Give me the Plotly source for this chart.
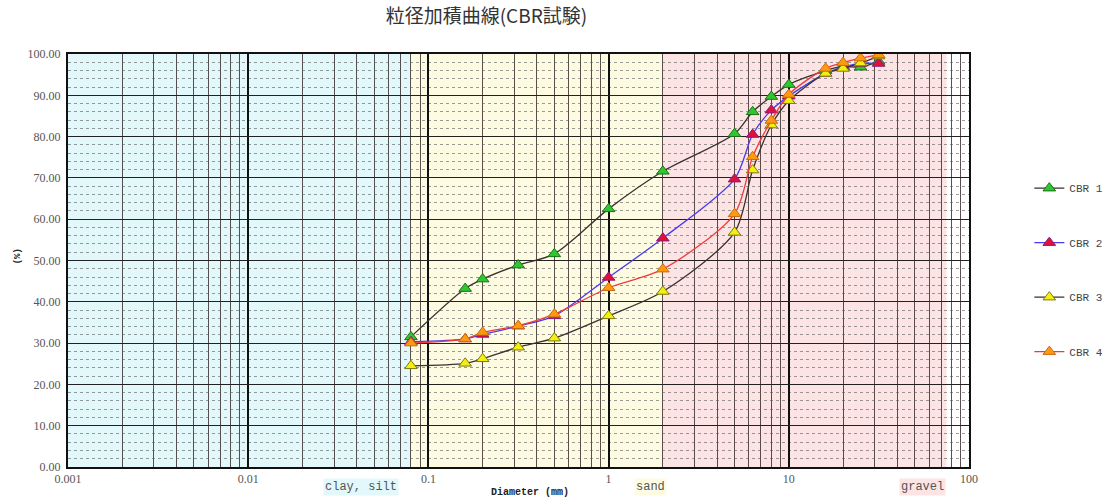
import math
import plotly.graph_objects as go

# Sieve sizes (mm) and percent passing for each CBR sample
diameter = [0.08, 0.16, 0.2, 0.315, 0.5, 1, 2, 5, 6.3, 8, 10, 16, 20, 25, 31.5]
cbr1 = [31.5, 43.2, 45.5, 48.9, 51.6, 62.5, 71.6, 80.7, 86.0, 89.7, 92.6, 96.0, 97.0, 96.8, 98.2]
cbr2 = [30.3, 31.0, 32.1, 34.1, 36.6, 45.9, 55.4, 69.7, 80.5, 86.4, 89.8, 95.3, 96.8, 97.7, 97.7]
cbr3 = [24.5, 25.1, 26.2, 29.0, 31.2, 36.6, 42.5, 56.8, 71.9, 82.8, 88.7, 95.3, 96.5, 97.8, 99.5]
cbr4 = [30.0, 31.0, 32.6, 34.2, 37.0, 43.4, 47.9, 61.3, 75.1, 83.9, 90.2, 96.5, 97.9, 99.0, 99.8]

series_names = ["CBR 1", "CBR 2", "CBR 3", "CBR 4"]
series_values = [cbr1, cbr2, cbr3, cbr4]
line_colors = ["#3a3030", "#4a3af0", "#3a3030", "#f03a3a"]
marker_colors = ["#2ec82e", "#e0103a", "#f5ee10", "#ff9a10"]
marker_edges = ["#1e6e1e", "#8a1a7a", "#7a7a10", "#c86a10"]

# Soil fraction bands (mm)
zones = [
    ("clay, silt", 0.001, 0.08, "#e2f8fa"),
    ("sand", 0.08, 2, "#fdfbe2"),
    ("gravel", 2, 75, "#fde4e4"),
]
zone_label_pos = [0.0425, 1.71, 55.5]

x_tickvals = [0.001, 0.01, 0.1, 1, 10, 100]
x_ticktext = ["0.001", "0.01", "0.1", "1", "10", "100"]
y_tickvals = list(range(0, 101, 10))
y_ticktext = [f"{v:.2f}" for v in y_tickvals]

serif = "Liberation Serif"
mono = "Liberation Mono"

fig = go.Figure()

for name, vals, lc, mc, me in zip(series_names, series_values, line_colors, marker_colors, marker_edges):
    fig.add_trace(go.Scatter(
        x=diameter, y=vals, name=name, legendgroup=name,
        mode="lines+markers",
        line=dict(color=lc, width=1.3, shape="spline", smoothing=0.8),
        marker=dict(symbol="triangle-up", size=11, color=mc, line=dict(color=me, width=1)),
    ))

for label, x0, x1, col in zones:
    fig.add_shape(type="rect", xref="x", yref="y", x0=x0, x1=x1, y0=0, y1=100,
                  fillcolor=col, line=dict(width=0), layer="below")

for (label, x0, x1, col), xp in zip(zones, zone_label_pos):
    fig.add_annotation(x=math.log10(xp), y=-0.049, xref="x", yref="paper",
                       xanchor="center", yanchor="middle",
                       text=label, showarrow=False, bgcolor=col,
                       font=dict(family=mono, size=12, color="#555"), borderpad=1)

fig.add_annotation(x=0.513, y=-0.062, xref="paper", yref="paper",
                   text="<b>Diameter (mm)</b>", showarrow=False,
                   xanchor="center", yanchor="middle",
                   font=dict(family=mono, size=10, color="#222"))
fig.add_annotation(x=-0.0555, y=0.51, xref="paper", yref="paper", text="<b>(%)</b>",
                   textangle=-90, showarrow=False, xanchor="center", yanchor="middle",
                   font=dict(family=mono, size=9, color="#222"))

fig.update_layout(
    width=1108, height=499,
    margin=dict(l=68, r=139, t=54, b=32),
    paper_bgcolor="white", plot_bgcolor="white",
    title=dict(text="粒径加積曲線(CBR試験)", x=0.439, xanchor="center", y=0.968, yanchor="middle",
               font=dict(family="Noto Sans CJK JP", size=19, color="#333")),
    showlegend=True,
    legend=dict(xref="container", yref="container", x=0.929, xanchor="left",
                y=0.652, yanchor="top",
                font=dict(family=mono, size=11, color="#444"),
                tracegroupgap=35.5, bgcolor="rgba(0,0,0,0)"),
    xaxis=dict(type="log", range=[-3, 2], tickvals=x_tickvals, ticktext=x_ticktext,
               tickfont=dict(family=serif, size=12, color="#555"), ticks="",
               showgrid=True, gridcolor="#111", gridwidth=1.6,
               minor=dict(dtick="D1", showgrid=True, gridcolor="rgba(50,35,35,0.8)",
                          gridwidth=1, griddash="solid", ticks=""),
               showline=True, linecolor="#111", linewidth=2, mirror=True, zeroline=False),
    yaxis=dict(range=[0, 100], tickvals=y_tickvals, ticktext=y_ticktext,
               tickfont=dict(family=serif, size=12, color="#555"), ticks="",
               ticklabelstandoff=3,
               showgrid=True, gridcolor="#222", gridwidth=1.4,
               minor=dict(dtick=2, showgrid=True, gridcolor="rgba(90,90,90,0.6)",
                          gridwidth=1, griddash="dot"),
               showline=True, linecolor="#111", linewidth=2, mirror=True, zeroline=False),
)

fig.write_html("out.html")
